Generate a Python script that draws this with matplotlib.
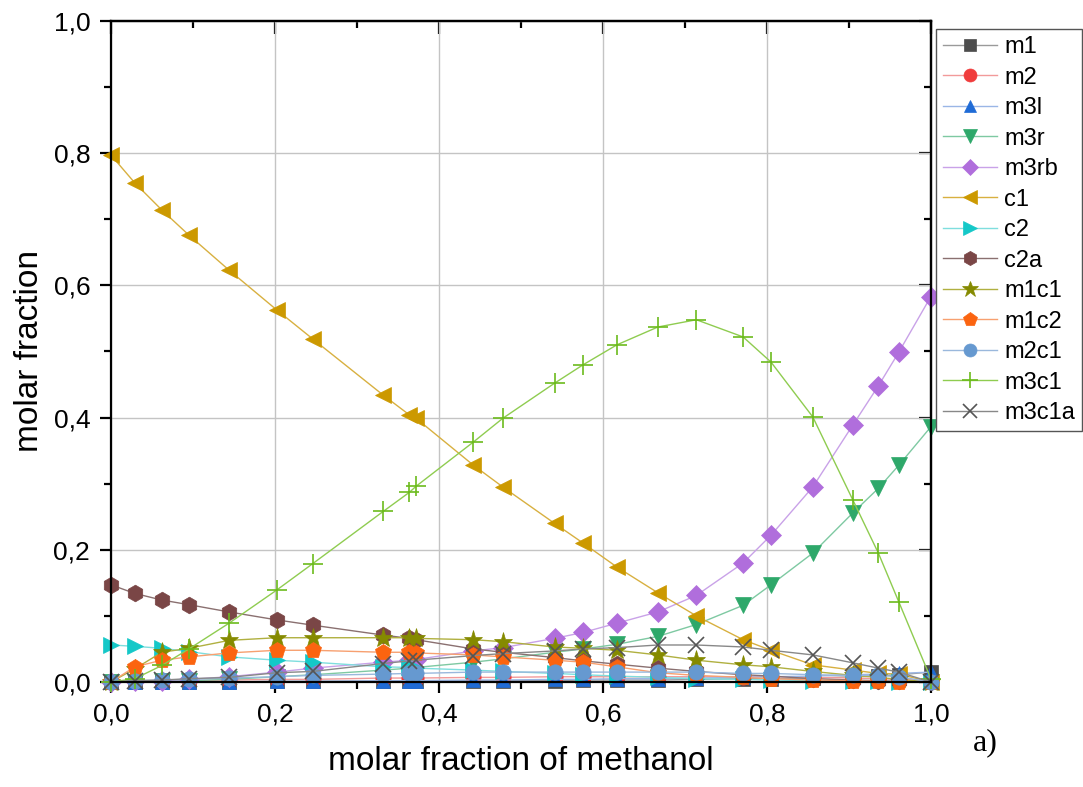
import matplotlib.pyplot as plt
from matplotlib.ticker import MultipleLocator, FuncFormatter

plt.rcParams['font.family'] = ['Liberation Sans', 'DejaVu Sans']

# molar fraction of methanol (common x for all species)
x = [0.0, 0.029, 0.062, 0.095, 0.144, 0.202, 0.246, 0.332, 0.364, 0.372, 0.442, 0.478,
     0.541, 0.576, 0.617, 0.667, 0.714, 0.771, 0.805, 0.856, 0.905, 0.936, 0.961, 1.0]

m1 = [0.0, 0.0, 0.0, 0.0, 0.0, 0.001, 0.001, 0.001, 0.001, 0.001, 0.002, 0.002,
      0.002, 0.003, 0.003, 0.003, 0.004, 0.005, 0.005, 0.006, 0.008, 0.009, 0.011, 0.015]
m2 = [0.0, 0.001, 0.001, 0.002, 0.003, 0.004, 0.004, 0.006, 0.006, 0.006, 0.007, 0.007,
      0.008, 0.008, 0.008, 0.008, 0.008, 0.008, 0.008, 0.007, 0.006, 0.005, 0.004, 0.002]
m3l = [0.0, 0.0, 0.0, 0.0, 0.0, 0.001, 0.001, 0.002, 0.002, 0.002, 0.003, 0.003,
       0.004, 0.004, 0.005, 0.005, 0.006, 0.007, 0.008, 0.009, 0.011, 0.012, 0.013, 0.015]
m3r = [0.0, 0.0, 0.001, 0.002, 0.004, 0.008, 0.011, 0.018, 0.021, 0.022, 0.03, 0.035,
       0.045, 0.05, 0.057, 0.069, 0.087, 0.116, 0.147, 0.195, 0.256, 0.293, 0.328, 0.386]
m3rb = [0.0, 0.001, 0.002, 0.004, 0.008, 0.015, 0.021, 0.03, 0.033, 0.034, 0.047, 0.052,
        0.066, 0.075, 0.089, 0.106, 0.131, 0.18, 0.222, 0.295, 0.389, 0.448, 0.499, 0.583]
c1 = [0.797, 0.755, 0.714, 0.676, 0.623, 0.563, 0.519, 0.434, 0.404, 0.399, 0.328, 0.295,
      0.24, 0.21, 0.174, 0.135, 0.1, 0.064, 0.048, 0.026, 0.018, 0.013, 0.012, 0.0]
c2 = [0.056, 0.054, 0.051, 0.046, 0.038, 0.033, 0.03, 0.023, 0.022, 0.021, 0.018, 0.016,
      0.013, 0.011, 0.009, 0.007, 0.005, 0.004, 0.003, 0.002, 0.001, 0.001, 0.0, 0.0]
c2a = [0.147, 0.134, 0.124, 0.117, 0.106, 0.094, 0.086, 0.071, 0.066, 0.064, 0.05, 0.045,
       0.037, 0.032, 0.027, 0.021, 0.016, 0.011, 0.009, 0.005, 0.003, 0.002, 0.001, 0.0]
m1c1 = [0.0, 0.02, 0.045, 0.051, 0.063, 0.067, 0.067, 0.067, 0.067, 0.066, 0.064, 0.061,
        0.053, 0.051, 0.048, 0.041, 0.033, 0.026, 0.023, 0.016, 0.01, 0.007, 0.004, 0.0]
m1c2 = [0.0, 0.023, 0.033, 0.038, 0.044, 0.048, 0.048, 0.045, 0.045, 0.044, 0.041, 0.038,
        0.033, 0.03, 0.023, 0.014, 0.01, 0.007, 0.005, 0.003, 0.002, 0.001, 0.0, 0.0]
m2c1 = [0.0, 0.002, 0.003, 0.004, 0.006, 0.008, 0.01, 0.012, 0.013, 0.013, 0.015, 0.015,
        0.015, 0.015, 0.015, 0.015, 0.015, 0.013, 0.013, 0.011, 0.01, 0.01, 0.008, 0.0]
m3c1 = [0.0, 0.005, 0.025, 0.05, 0.089, 0.139, 0.179, 0.258, 0.287, 0.296, 0.363, 0.399,
        0.452, 0.48, 0.51, 0.537, 0.548, 0.522, 0.484, 0.401, 0.275, 0.195, 0.121, 0.005]
m3c1a = [0.0, 0.002, 0.003, 0.005, 0.007, 0.014, 0.016, 0.028, 0.032, 0.033, 0.04, 0.043,
         0.047, 0.05, 0.052, 0.056, 0.056, 0.053, 0.048, 0.041, 0.029, 0.021, 0.015, 0.0]

# (name, data, marker, marker colour, line colour, size)
series = [
    ("m1", m1, "s", "#4d4d4d", "#9a9a9a", 10),
    ("m2", m2, "o", "#f03c3c", "#f29a9a", 11),
    ("m3l", m3l, "^", "#1f6bd6", "#9ab6e6", 10),
    ("m3r", m3r, "v", "#2ea86a", "#7ec9a2", 12),
    ("m3rb", m3rb, "D", "#b06edc", "#c9a2e8", 10),
    ("c1", c1, "<", "#cc9900", "#d8b040", 12),
    ("c2", c2, ">", "#14c8c8", "#7fdede", 12),
    ("c2a", c2a, "h", "#7a4646", "#8a7070", 12),
    ("m1c1", m1c1, "*", "#858a00", "#b0b040", 14),
    ("m1c2", m1c2, "p", "#fb6410", "#f7a070", 12),
    ("m2c1", m2c1, "o", "#6699d0", "#9ab8dc", 11),
    ("m3c1", m3c1, "+", "#6cbb1c", "#8fcc50", 14),
    ("m3c1a", m3c1a, "x", "#555555", "#888888", 12),
]

fig = plt.figure(figsize=(10.83, 7.87), dpi=100)
ax = fig.add_axes([0.1025, 0.1334, 0.757, 0.84])

for name, ys, mk, mc, lc, ms in series:
    thin = mk in ("+", "x")
    ax.plot(x, ys, color=lc, lw=1.0, marker=mk, ms=ms,
            mfc=mc, mec=mc, mew=1.2 if thin else 0.5, label=name, clip_on=False)

ax.set_xlim(0, 1)
ax.set_ylim(0, 1)
ax.xaxis.set_major_locator(MultipleLocator(0.2))
ax.xaxis.set_minor_locator(MultipleLocator(0.1))
ax.yaxis.set_major_locator(MultipleLocator(0.2))
ax.yaxis.set_minor_locator(MultipleLocator(0.1))
comma = FuncFormatter(lambda v, p: f"{v:.1f}".replace(".", ","))
ax.xaxis.set_major_formatter(comma)
ax.yaxis.set_major_formatter(comma)
ax.grid(True, which="major", color="#c4c4c4", lw=1.0)
ax.set_axisbelow(True)

for s in ax.spines.values():
    s.set_linewidth(1.6)
ax.tick_params(which="major", direction="out", length=8, width=1.6, labelsize=19, pad=7)
ax.tick_params(which="minor", direction="out", length=5, width=1.6)

# mirrored axes with inward ticks
top = ax.secondary_xaxis("top")
right = ax.secondary_yaxis("right")
top.xaxis.set_major_locator(MultipleLocator(0.2))
top.xaxis.set_minor_locator(MultipleLocator(0.1))
right.yaxis.set_major_locator(MultipleLocator(0.2))
right.yaxis.set_minor_locator(MultipleLocator(0.1))
for sec in (top, right):
    sec.tick_params(which="both", direction="in", width=1.6,
                    labeltop=False, labelright=False)
    sec.tick_params(which="major", length=9)
    sec.tick_params(which="minor", length=5)
    for s in sec.spines.values():
        s.set_linewidth(1.6)

ax.set_xlabel("molar fraction of methanol", fontsize=24, labelpad=14)
ax.set_ylabel("molar fraction", fontsize=24, labelpad=6)

fig.legend(loc="upper left", bbox_to_anchor=(936 / 1083, 1 - 29 / 787),
           fontsize=17, frameon=True, fancybox=False, edgecolor="#555555",
           framealpha=1, borderpad=0.3, labelspacing=0.36, handlelength=2.3,
           handletextpad=0.3, borderaxespad=0, markerscale=0.85)

fig.text(985 / 1083, 1 - 743 / 787, "a)", fontsize=23, family="Liberation Serif",
         ha="center", va="center")

fig.savefig("out.png", dpi=100)
